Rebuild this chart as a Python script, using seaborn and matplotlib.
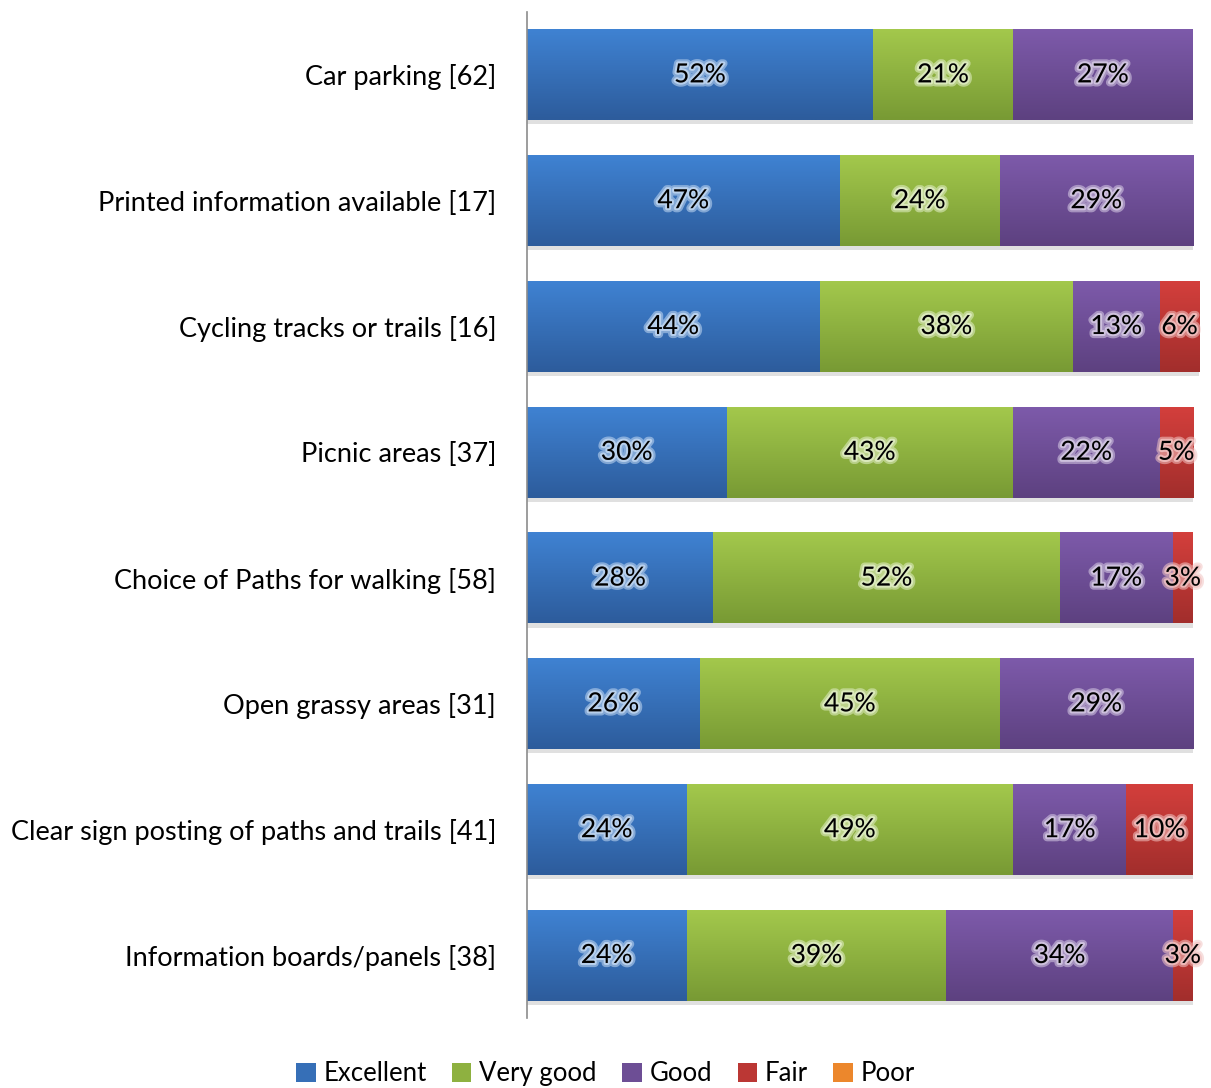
import numpy as np
import pandas as pd
import matplotlib
matplotlib.use("Agg")
import matplotlib.pyplot as plt
import matplotlib.patheffects as pe
from matplotlib.patches import Patch
from matplotlib.colors import to_rgb
import seaborn as sns

# Survey ratings (percent of respondents)
facilities = ['Car parking [62]', 'Printed information available [17]',
              'Cycling tracks or trails [16]', 'Picnic areas [37]',
              'Choice of Paths for walking [58]', 'Open grassy areas [31]',
              'Clear sign posting of paths and trails [41]',
              'Information boards/panels [38]']
excellent = [52, 47, 44, 30, 28, 26, 24, 24]
very_good = [21, 24, 38, 43, 52, 45, 49, 39]
good = [27, 29, 13, 22, 17, 29, 17, 34]
fair = [0, 0, 6, 5, 3, 0, 10, 3]
poor = [0, 0, 0, 0, 0, 0, 0, 0]

ratings = ['Excellent', 'Very good', 'Good', 'Fair', 'Poor']
series = [excellent, very_good, good, fair, poor]
# (top, bottom) gradient colours, Excel style
grads = {
    'Excellent': ('#3f82d2', '#2d5c9c'),
    'Very good': ('#a3c84c', '#789a34'),
    'Good': ('#7d5aaa', '#5d4180'),
    'Fair': ('#d33f3c', '#a22e2c'),
    'Poor': ('#ff9a3a', '#d9731e'),
}

df = pd.DataFrame({'Facility': facilities})
for name, vals in zip(ratings, series):
    df[name] = vals

plt.rcParams['font.family'] = ['Lato', 'DejaVu Sans']
fig = plt.figure(figsize=(12.11, 10.88), dpi=100)
ax = fig.add_axes([0.435, 0.064, 0.55, 0.925])

bar_h = 0.72
left = np.zeros(len(df))
segments = []
for name in ratings:
    top_c, bot_c = grads[name]
    mid = tuple((np.array(to_rgb(top_c)) + np.array(to_rgb(bot_c))) / 2)
    n_before = len(ax.patches)
    sns.barplot(data=df, x=name, y='Facility', orient='h', left=left,
                color=mid, width=bar_h, ax=ax, clip_on=False,
                linewidth=0, saturation=1)
    for i, p in enumerate(ax.patches[n_before:]):
        segments.append((p, name, df[name].iloc[i], left[i]))
    left = left + df[name].values

# gradient fill, drop shadow and value labels
for p, name, val, l in segments:
    if val <= 0:
        p.set_visible(False)
        continue
    top_c, bot_c = grads[name]
    p.set_path_effects([pe.SimplePatchShadow(offset=(0, -3), shadow_rgbFace='#999999', alpha=0.3),
                        pe.Normal()])
    t = np.linspace(0, 1, 64)[:, None, None]
    img = (1 - t) * np.array(to_rgb(top_c)) + t * np.array(to_rgb(bot_c))
    x0, y0 = p.get_x(), p.get_y()
    w, h = p.get_width(), p.get_height()
    im = ax.imshow(img, extent=(x0, x0 + w, y0 + h, y0), origin='upper',
                   aspect='auto', zorder=p.get_zorder() + 0.1, clip_on=False)
    im.set_clip_path(p)
    glow = tuple(np.array(to_rgb(top_c)) * 0.3 + 0.7)
    ax.text(l + val / 2, y0 + h / 2, f'{val}%', ha='center', va='center',
            fontsize=19, color='black', zorder=5,
            path_effects=[pe.withStroke(linewidth=6, foreground=glow, alpha=0.55),
                          pe.withStroke(linewidth=3, foreground=glow, alpha=0.8)])

ax.set_xlim(0, 100)
ax.set_ylim(len(df) - 0.5, -0.5)
ax.set_xlabel('')
ax.set_ylabel('')
ax.set_xticks([])
ax.tick_params(axis='y', length=0, pad=22, labelsize=19.5)
for s in ['top', 'right', 'bottom']:
    ax.spines[s].set_visible(False)
ax.spines['left'].set_color('#8c8c8c')
ax.spines['left'].set_linewidth(1.2)

handles = [Patch(facecolor=tuple((np.array(to_rgb(grads[r][0])) + np.array(to_rgb(grads[r][1]))) / 2),
                 edgecolor='none', label=r) for r in ratings]
fig.legend(handles=handles, loc='center', bbox_to_anchor=(0.5, 0.013), ncol=5,
           frameon=False, fontsize=18.5, handlelength=0.75, handleheight=0.75,
           handletextpad=0.3, columnspacing=1.0)

fig.savefig('out.png', dpi=100)
